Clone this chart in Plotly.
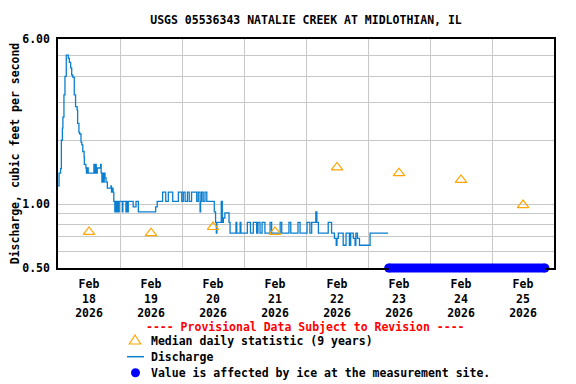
import math
import pandas as pd
import plotly.graph_objects as go

# ---------------- data ----------------
title_text = "USGS 05536343 NATALIE CREEK AT MIDLOTHIAN, IL"
start_time = "2026-02-18 00:00"

# discharge change points (hours after start_time, cfs), drawn as steps
discharge_hours = [
    0.0, 0.4, 1.0, 1.3, 1.7, 1.9, 2.3, 2.7, 3.2, 4.0, 4.4, 4.9, 5.3, 5.7, 6.3, 6.8,
    7.4, 7.6, 8.1, 8.4, 8.9, 9.2, 9.6, 10.1, 10.2, 10.8, 11.0, 11.3, 11.7, 13.9, 14.2,
    14.5, 14.8, 15.2, 16.5, 16.7, 17.0, 17.3, 17.6, 17.9, 18.2, 18.6, 19.1, 20.5, 20.7,
    21.0, 21.3, 21.6, 22.0, 22.3, 22.7, 23.0, 23.4, 23.7, 24.9, 25.1, 26.3, 26.6, 26.9,
    27.2, 29.1, 30.2, 31.1, 37.8, 38.4, 40.5, 41.7, 42.7, 44.4, 46.6, 47.9, 48.5, 49.2,
    50.1, 50.8, 51.7, 53.7, 54.3, 55.0, 55.2, 55.6, 56.2, 56.9, 57.6, 60.5, 61.0, 61.3,
    61.5, 63.2, 63.6, 64.0, 64.6, 66.2, 66.6, 68.9, 69.2, 70.5, 70.8, 73.3, 74.5, 75.6,
    76.9, 77.4, 78.2, 79.0, 80.1, 82.1, 82.7, 86.0, 86.6, 89.4, 90.1, 92.9, 93.7, 96.4,
    97.5, 98.2, 99.8, 100.2, 100.8, 104.6, 105.9, 107.0, 107.7, 108.0, 108.5, 110.4,
    111.5, 112.8, 113.3, 114.3, 115.0, 115.3, 115.9, 116.7, 120.8, 127.8,
]
discharge_values = [
    1.22, 1.40, 1.47, 2.00, 2.28, 2.57, 3.27, 4.00, 5.04, 4.86, 4.66, 4.39, 4.06, 3.97, 3.27, 2.88,
    2.78, 2.40, 2.18, 2.14, 1.96, 1.90, 1.77, 1.67, 1.54, 1.48, 1.40, 1.48, 1.40, 1.54, 1.40,
    1.54, 1.40, 1.48, 1.54, 1.40, 1.27, 1.40, 1.27, 1.40, 1.33, 1.27, 1.19, 1.22, 1.14,
    1.19, 1.14, 1.03, 0.92, 1.03, 0.92, 1.03, 0.92, 1.03, 0.92, 1.03, 0.92, 1.03, 0.92,
    1.03, 0.97, 1.03, 0.92, 0.97, 1.03, 1.14, 1.03, 1.14, 1.03, 1.14, 1.03, 1.14, 1.03,
    1.14, 1.03, 1.14, 1.03, 1.14, 0.92, 1.03, 1.14, 1.03, 1.14, 1.03, 0.92, 0.82, 0.73,
    0.82, 1.03, 0.82, 0.86, 0.91, 0.82, 0.73, 0.82, 0.73, 0.82, 0.73, 0.82, 0.73, 0.82,
    0.73, 0.82, 0.73, 0.82, 0.73, 0.82, 0.73, 0.82, 0.73, 0.82, 0.73, 0.82, 0.73, 0.82,
    0.73, 0.82, 0.92, 0.82, 0.73, 0.82, 0.73, 0.69, 0.64, 0.69, 0.73, 0.64,
    0.73, 0.64, 0.73, 0.69, 0.64, 0.73, 0.69, 0.64, 0.73, 0.73,
]

# median daily statistic (9 years), plotted at noon of each day
median_dates = ["2026-02-18 12:00", "2026-02-19 12:00", "2026-02-20 12:00", "2026-02-21 12:00",
                "2026-02-22 12:00", "2026-02-23 12:00", "2026-02-24 12:00", "2026-02-25 12:00"]
median_values = [0.74, 0.73, 0.78, 0.74, 1.49, 1.40, 1.30, 0.99]

# ice-affected period (values shown along the bottom of the axis)
ice_period = ["2026-02-23 08:00", "2026-02-25 20:30"]
ice_level = 0.50

# axis ticks
x_tick_dates = median_dates
x_tick_labels = ["Feb<br>18<br>2026", "Feb<br>19<br>2026", "Feb<br>20<br>2026", "Feb<br>21<br>2026",
                 "Feb<br>22<br>2026", "Feb<br>23<br>2026", "Feb<br>24<br>2026", "Feb<br>25<br>2026"]
x_grid_dates = ["2026-02-19", "2026-02-20", "2026-02-21", "2026-02-22",
                "2026-02-23", "2026-02-24", "2026-02-25"]
x_range = ["2026-02-18 00:00", "2026-02-26 00:00"]
y_tick_values = [0.5, 1.0, 6.0]
y_tick_labels = ["0.50", "1.00", "6.00"]
y_grid_values = [0.6, 0.7, 0.8, 0.9, 2, 3, 4, 5]
y_range = [0.5, 6.0]

legend_header = "---- Provisional Data Subject to Revision ----"
legend_labels = ["Median daily statistic (9 years)", "Discharge",
                 "Value is affected by ice at the measurement site."]

# ---------------- figure ----------------
# the page adds an 8px body margin, so the figure is 8px smaller than the window
OFF = 8
W, H = 576 - OFF, 384 - OFF
L, R, T, B = 58 - OFF, 22, 39 - OFF, 116
PW, PH = W - L - R, H - T - B
FONT = "DejaVu Sans Mono"
LINE_BLUE = "#0a7fd0"
ICE_BLUE = "#0000ff"
ORANGE = "#ffa500"


def px(x):  # window pixel -> paper x
    return (x - OFF - L) / PW


def py(y):  # window pixel -> paper y
    return (H - B - (y - OFF)) / PH


t0 = pd.Timestamp(start_time)
discharge_times = [t0 + pd.Timedelta(hours=h) for h in discharge_hours]

fig = go.Figure()

fig.add_trace(go.Scatter(
    x=discharge_times, y=discharge_values, mode="lines", line_shape="hv",
    line=dict(color=LINE_BLUE, width=1.3), showlegend=False, hoverinfo="skip"))

fig.add_trace(go.Scatter(
    x=pd.to_datetime(median_dates), y=median_values, mode="markers",
    marker=dict(symbol="triangle-up-open", size=10, color=ORANGE, line=dict(width=1.2, color=ORANGE)),
    showlegend=False, cliponaxis=False))

# ice band: thick bar at the bottom with rounded ends
ice_x = pd.to_datetime(ice_period)
fig.add_shape(type="line", xref="x", yref="paper", x0=ice_x[0], x1=ice_x[1], y0=0, y1=0,
              line=dict(color=ICE_BLUE, width=9), layer="above")
fig.add_trace(go.Scatter(
    x=ice_x, y=[ice_level, ice_level], mode="markers",
    marker=dict(symbol="circle", size=9, color=ICE_BLUE), showlegend=False, cliponaxis=False))

bold = dict(family=FONT, size=11.5, color="black", weight="bold")

fig.update_layout(
    width=W, height=H,
    margin=dict(l=L, r=R, t=T, b=B, autoexpand=False),
    paper_bgcolor="white", plot_bgcolor="white",
    font=bold,
    title=dict(text=title_text, x=0.5, xref="paper", xanchor="center",
               y=1 - (20 - OFF) / H, yref="container", yanchor="middle", font=bold),
    xaxis=dict(
        type="date", range=pd.to_datetime(x_range), automargin=False,
        tickmode="array", tickvals=pd.to_datetime(x_tick_dates), ticktext=x_tick_labels,
        showgrid=False, ticks="", ticklabelstandoff=4,
        showline=True, linecolor="black", linewidth=1.5, mirror=True,
        zeroline=False, tickfont=bold,
        minor=dict(tickmode="array", tickvals=pd.to_datetime(x_grid_dates), showgrid=True,
                   gridcolor="#c8c8c8", gridwidth=1, ticks=""),
    ),
    yaxis=dict(
        type="log", range=[math.log10(y_range[0]), math.log10(y_range[1])], automargin=False,
        tickmode="array", tickvals=y_tick_values, ticktext=y_tick_labels,
        showgrid=True, gridcolor="#c8c8c8", gridwidth=1, ticks="", ticklabelstandoff=4,
        showline=True, linecolor="black", linewidth=1.5, mirror=True, zeroline=False,
        tickfont=bold,
        title=dict(text="Discharge, cubic feet per second", standoff=2, font=bold),
        minor=dict(tickmode="array", tickvals=y_grid_values, showgrid=True,
                   gridcolor="#c8c8c8", gridwidth=1, ticks=""),
    ),
)

# ---------------- custom legend below the plot ----------------
fig.add_annotation(text=legend_header, xref="paper", yref="paper", x=px(305), y=py(327),
                   xanchor="center", yanchor="middle", showarrow=False,
                   font=dict(family=FONT, size=11.5, color="#ff0000", weight="bold"))
legend_rows_y = [341, 357, 373]
for label, yy in zip(legend_labels, legend_rows_y):
    fig.add_annotation(text=label, xref="paper", yref="paper", x=px(149), y=py(yy),
                       xanchor="left", yanchor="middle", showarrow=False, font=bold)

# triangle symbol
tx, ty = 135, 340
tri = "M {} {} L {} {} L {} {} Z".format(px(tx - 5.7), py(ty + 4), px(tx + 5.7), py(ty + 4),
                                          px(tx), py(ty - 5))
fig.add_shape(type="path", xref="paper", yref="paper", path=tri,
              line=dict(color=ORANGE, width=1.2), fillcolor="rgba(0,0,0,0)")
# line symbol
fig.add_shape(type="line", xref="paper", yref="paper", x0=px(127), x1=px(144),
              y0=py(356.7), y1=py(356.7), line=dict(color=LINE_BLUE, width=1.5))
# ice dot symbol
fig.add_shape(type="circle", xref="paper", yref="paper", x0=px(131), x1=px(140),
              y0=py(368.2), y1=py(377.2), line=dict(color=ICE_BLUE, width=0), fillcolor=ICE_BLUE)

fig.write_html("out.html")
